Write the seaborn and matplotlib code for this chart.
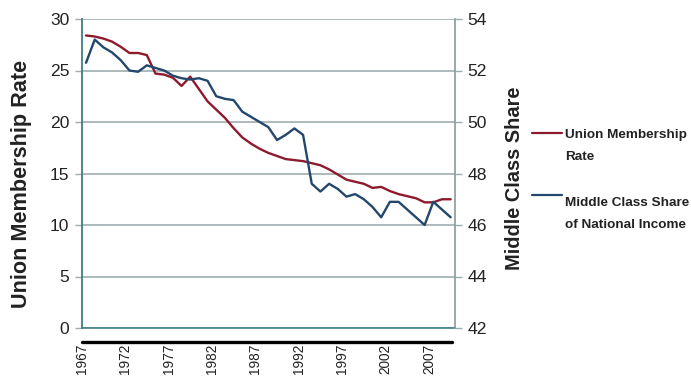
import matplotlib
matplotlib.use("Agg")
import matplotlib.pyplot as plt
from matplotlib import font_manager
from matplotlib.lines import Line2D
import seaborn as sns
import pandas as pd

years = list(range(1967, 2010))
union_rate = [28.4, 28.3, 28.1, 27.8, 27.3, 26.7, 26.7, 26.5, 24.7, 24.6,
              24.3, 23.5, 24.4, 23.2, 22.0, 21.2, 20.4, 19.4, 18.5, 17.9,
              17.4, 17.0, 16.7, 16.4, 16.3, 16.2, 16.0, 15.8, 15.4, 14.9,
              14.4, 14.2, 14.0, 13.6, 13.7, 13.3, 13.0, 12.8, 12.6, 12.2,
              12.2, 12.5, 12.5]
middle_share = [52.3, 53.2, 52.9, 52.7, 52.4, 52.0, 51.95, 52.2, 52.1, 52.0,
                51.8, 51.7, 51.65, 51.7, 51.6, 51.0, 50.9, 50.85, 50.4, 50.2,
                50.0, 49.8, 49.3, 49.5, 49.75, 49.5, 47.6, 47.3, 47.6, 47.4,
                47.1, 47.2, 47.0, 46.7, 46.3, 46.9, 46.9, 46.6, 46.3, 46.0,
                46.9, 46.6, 46.3]
xtick_labels = ["1967", "1972", "1977", "1982", "1987", "1992", "1997", "2002", "2007"]
left_ticks = [0, 5, 10, 15, 20, 25, 30]
right_ticks = [42, 44, 46, 48, 50, 52, 54]

names = {f.name for f in font_manager.fontManager.ttflist}
narrow = "Liberation Sans Narrow" in names
FONT = "Liberation Sans Narrow" if narrow else "Liberation Sans"
k = 1.0 if narrow else 0.85

sns.set_style("white")
plt.rcParams["font.family"] = [FONT, "DejaVu Sans"]

RED = "#8e1a2e"
BLUE = "#24476e"
GRID = "#9eadae"
TEAL = "#3f7f86"
TXT = "#222222"

df = pd.DataFrame({"year": years, "union": union_rate, "middle": middle_share})

fig = plt.figure(figsize=(6.91, 3.77), dpi=100)
ax = fig.add_axes([81.7 / 691, 49 / 377, (455 - 81.7) / 691, 309 / 377])
ax2 = ax.twinx()

sns.lineplot(data=df, x="year", y="union", ax=ax, color=RED, linewidth=1.7)
sns.lineplot(data=df, x="year", y="middle", ax=ax2, color=BLUE, linewidth=1.7)

ax.set_xlim(1966.5, 2009.5)
ax.set_ylim(0, 30)
ax2.set_ylim(42, 54)
ax.set_yticks(left_ticks)
ax2.set_yticks(right_ticks)
ax.set_yticklabels([str(t) for t in left_ticks], fontsize=14.8 * k)
ax2.set_yticklabels([str(t) for t in right_ticks], fontsize=14.8 * k)
xt = [1966.5 + 5 * i for i in range(len(xtick_labels))]
ax.set_xticks(xt)
ax.set_xticklabels(xtick_labels, rotation=90, fontsize=11.5 * k, va="top", ha="center")

ax.grid(axis="y", color=GRID, linewidth=1.2)
ax.grid(axis="x", visible=False)
ax2.grid(False)
ax.set_axisbelow(True)

ax.spines["top"].set_visible(False)
ax2.spines["top"].set_visible(False)
ax.spines["left"].set_color(TEAL)
ax.spines["left"].set_linewidth(1.3)
ax.spines["bottom"].set_color(TEAL)
ax.spines["bottom"].set_linewidth(1.2)
ax2.spines["right"].set_color("#8a9899")
ax2.spines["right"].set_linewidth(1.2)
ax2.spines["left"].set_visible(False)
ax2.spines["bottom"].set_visible(False)
ax.spines["right"].set_visible(False)

ax.tick_params(axis="y", direction="out", length=5, width=1, color=GRID, pad=4, labelcolor=TXT)
ax2.tick_params(axis="y", direction="out", length=5, width=1, color=GRID, pad=4, labelcolor=TXT)
ax.tick_params(axis="x", direction="out", length=4.3, width=1, color=TEAL, pad=7, labelcolor=TXT)

ax.set_xlabel("")
ax.set_ylabel("")
ax2.set_ylabel("")

fig.text(22 / 691, 1 - 184 / 377, "Union Membership Rate", rotation=90, fontsize=18.3 * k,
         fontweight="bold", ha="center", va="center", color=TXT)
fig.text(514 / 691, 1 - 178 / 377, "Middle Class Share", rotation=90, fontsize=17 * k,
         fontweight="bold", ha="center", va="center", color=TXT)

# thick bar under the category axis
ax.add_line(Line2D([0, 0.993], [-0.045, -0.045], transform=ax.transAxes, color="black",
                   linewidth=2.4, clip_on=False))

# legend
leg_items = [(("Union Membership", "Rate"), RED, 133, (133, 156)),
             (("Middle Class Share", "of National Income"), BLUE, 195, (201, 223))]
for lines, col, yy, ty in leg_items:
    fig.add_artist(Line2D([532 / 691, 562 / 691], [1 - yy / 377, 1 - yy / 377], color=col, linewidth=1.6))
    for txt, y in zip(lines, ty):
        fig.text(565 / 691, 1 - y / 377, txt, fontsize=11.4 * k, fontweight="bold",
                 ha="left", va="center_baseline", color=TXT)

fig.savefig("out.png", dpi=100)
